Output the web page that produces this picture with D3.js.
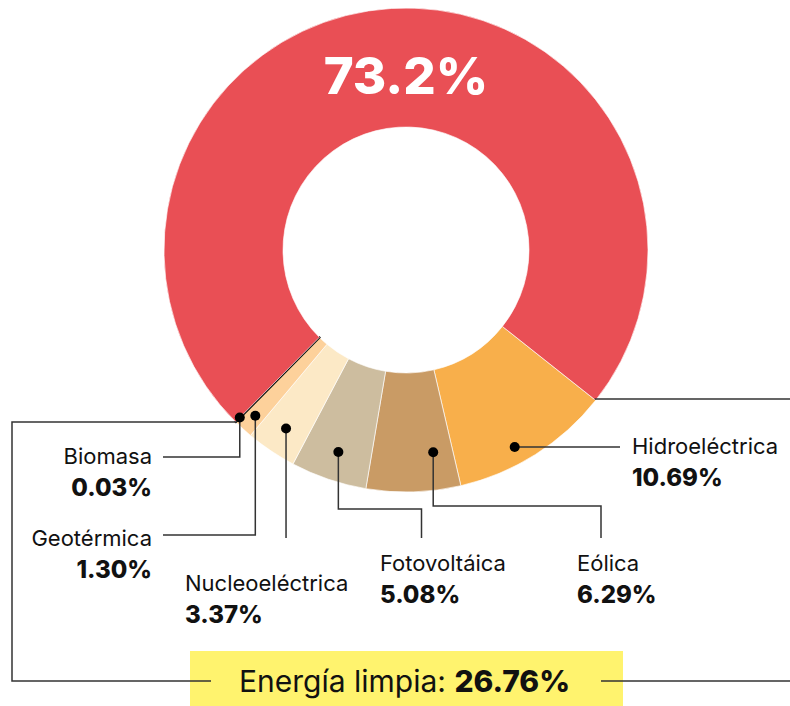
<!DOCTYPE html>
<html>
<head>
<meta charset="utf-8">
<script src="https://cdn.jsdelivr.net/npm/d3@7"></script>
<style>
  body { margin: 0; background: #fff; }
  svg { display: block; font-family: Inter, "Noto Sans", sans-serif; }
</style>
</head>
<body>
<div id="chart"></div>
<script>
(function(){
// data
var categories = ["Hidroeléctrica", "Eólica", "Fotovoltáica", "Nucleoeléctrica", "Geotérmica", "Biomasa", "Fósil"];
var shares     = [10.69, 6.29, 5.08, 3.37, 1.30, 0.03, 73.2];
var valueLabels = ["10.69%", "6.29%", "5.08%", "3.37%", "1.30%", "0.03%", "73.2%"];
var cleanLabel = "Energía limpia: ";
var cleanValue = "26.76%";

// colours per slice
var colors = ["#f8af4b", "#c99b65", "#cdbd9f", "#fce9c6", "#fdd19b", "#111111", "#e94f55"];

// layout of the dots / leaders / labels (one entry per clean slice)
// t = position along slice, r = dot radius from centre
var layout = [
  {t: 0.59, r: 225, path: [["h", 620]], x: 632, y: 454, anchor: "start"},
  {t: 0.24, r: 204, path: [["v", 506], ["h", 601], ["v", 538]], x: 577, y: 571, anchor: "start"},
  {t: 0.49, r: 213, path: [["v", 509], ["h", 421.5], ["v", 538]], x: 380, y: 571, anchor: "start"},
  {t: 0.50, r: 215, path: [["v", 538]], x: 185, y: 591, anchor: "start"},
  {t: 0.49, r: 224, path: [["v", 535], ["h", 163]], x: 152, y: 546, anchor: "end"},
  {t: 1.00, r: 236, path: [["v", 457], ["h", 163]], x: 152, y: 464, anchor: "end"}
];

var width = 790, height = 706;
var cx = 406, cy = 250, outerR = 242, innerR = 123;
var startDeg = 128.4;

var svg = d3.select("#chart").append("svg")
    .attr("width", width)
    .attr("height", height);

var pie = d3.pie().sort(null).value(function(d) { return d; })
    .startAngle(startDeg * Math.PI / 180)
    .endAngle(startDeg * Math.PI / 180 + 2 * Math.PI);
var arcs = pie(shares);

var arc = d3.arc().innerRadius(innerR).outerRadius(outerR);

var g = svg.append("g").attr("transform", "translate(" + cx + "," + cy + ")");

g.selectAll("path.slice")
    .data(arcs)
  .enter().append("path")
    .attr("class", "slice")
    .attr("d", arc)
    .attr("fill", function(d, i) { return colors[i]; })
    .attr("stroke", function(d, i) { return i === 5 ? "#111" : "#fff"; })
    .attr("stroke-width", function(d, i) { return i === 5 ? 2 : 0.8; })
    .attr("stroke-opacity", function(d, i) { return i === 5 ? 1 : 0.8; });

// big number in the red slice
svg.append("text")
    .attr("x", cx)
    .attr("y", 94)
    .attr("text-anchor", "middle")
    .attr("fill", "#fff")
    .style("font-size", "51px")
    .style("font-weight", 800)
    .text(valueLabels[6]);

// bracket lines for clean energy
var lineColor = "#333";
function pt(a, r) { return [cx + r * Math.sin(a), cy - r * Math.cos(a)]; }

var dots = arcs.slice(0, 6).map(function(d, i) {
  var a = d.startAngle + (d.endAngle - d.startAngle) * layout[i].t;
  return pt(a, layout[i].r);
});

var redStart = pt(arcs[0].startAngle, outerR);

var bracket = d3.path();
bracket.moveTo(dots[5][0] - 3, 422);
bracket.lineTo(12, 422);
bracket.lineTo(12, 681);
bracket.lineTo(211, 681);
bracket.moveTo(redStart[0] - 1, 399);
bracket.lineTo(width, 399);
bracket.moveTo(601, 681);
bracket.lineTo(width, 681);

svg.append("rect")
    .attr("x", 190)
    .attr("y", 651)
    .attr("width", 433)
    .attr("height", 60)
    .attr("fill", "#fff36e");

svg.append("path")
    .attr("d", bracket.toString())
    .attr("fill", "none")
    .attr("stroke", lineColor)
    .attr("stroke-width", 1.5);

svg.append("text")
    .attr("x", 239)
    .attr("y", 692)
    .attr("fill", "#111")
    .style("font-size", "30px")
    .text(cleanLabel)
  .append("tspan")
    .style("font-weight", 800)
    .text(cleanValue);

// leaders
var leaders = svg.append("g");
layout.forEach(function(l, i) {
  var p = d3.path(), x = dots[i][0], y = dots[i][1];
  p.moveTo(x, y);
  l.path.forEach(function(s) {
    if (s[0] === "v") y = s[1]; else x = s[1];
    p.lineTo(x, y);
  });
  leaders.append("path")
      .attr("d", p.toString())
      .attr("fill", "none")
      .attr("stroke", lineColor)
      .attr("stroke-width", 1.5);
});

leaders.selectAll("circle")
    .data(dots)
  .enter().append("circle")
    .attr("cx", function(d) { return d[0]; })
    .attr("cy", function(d) { return d[1]; })
    .attr("r", 5)
    .attr("fill", "#000");

// labels
var labels = svg.selectAll("g.label")
    .data(layout)
  .enter().append("g")
    .attr("class", "label");

labels.append("text")
    .attr("x", function(d) { return d.x; })
    .attr("y", function(d) { return d.y; })
    .attr("text-anchor", function(d) { return d.anchor; })
    .attr("fill", "#111")
    .style("font-size", "22px")
    .text(function(d, i) { return categories[i]; });

labels.append("text")
    .attr("x", function(d) { return d.x; })
    .attr("y", function(d) { return d.y + 32; })
    .attr("text-anchor", function(d) { return d.anchor; })
    .attr("fill", "#111")
    .style("font-size", "24px")
    .style("font-weight", 800)
    .text(function(d, i) { return valueLabels[i]; });
})();
</script>
</body>
</html>
